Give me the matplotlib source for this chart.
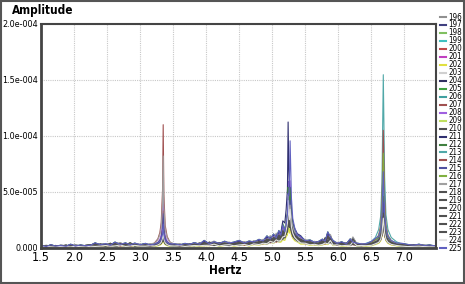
import numpy as np
import matplotlib
matplotlib.use("Agg")
import matplotlib.pyplot as plt
from matplotlib.lines import Line2D
from matplotlib.patches import Rectangle

plt.rcParams['font.family'] = ['DejaVu Sans']
plt.rcParams['font.stretch'] = 'condensed'

# frequency grid (Hz)
freq = [1.50, 1.58, 1.65, 1.72, 1.80, 1.88, 1.95, 2.02, 2.10, 2.18,
        2.25, 2.32, 2.40, 2.48, 2.55, 2.62, 2.70, 2.78, 2.85, 2.92,
        3.00, 3.08, 3.15, 3.22, 3.27, 3.30, 3.32, 3.34, 3.35, 3.36,
        3.38, 3.41, 3.45, 3.52, 3.60, 3.68, 3.75, 3.82, 3.90, 3.97,
        4.05, 4.12, 4.20, 4.28, 4.35, 4.42, 4.50, 4.58, 4.65, 4.72,
        4.80, 4.86, 4.92, 4.97, 5.02, 5.06, 5.10, 5.13, 5.16, 5.19,
        5.21, 5.23, 5.24, 5.25, 5.26, 5.27, 5.29, 5.31, 5.34, 5.38,
        5.43, 5.50, 5.57, 5.64, 5.70, 5.76, 5.80, 5.84, 5.88, 5.92,
        5.98, 6.05, 6.12, 6.18, 6.22, 6.28, 6.35, 6.42, 6.50, 6.56,
        6.61, 6.64, 6.66, 6.68, 6.70, 6.72, 6.75, 6.80, 6.88, 6.96,
        7.05, 7.14, 7.22, 7.30, 7.38, 7.48]

# background noise levels (units of 1e-6), three patterns
noise_a = [1.2, 1.8, 1.0, 2.2, 1.5, 2.6, 1.3, 1.9, 1.1, 2.4,
           3.0, 1.8, 3.6, 2.2, 4.2, 2.0, 3.4, 2.6, 4.6, 2.4,
           3.2, 2.0, 2.8, 3.0, 3.6, 4.0, 4.4, 4.8, 5.0, 4.6,
           4.0, 3.4, 2.8, 2.2, 3.0, 2.4, 3.6, 2.8, 4.4, 3.0,
           5.2, 3.2, 4.6, 3.8, 3.0, 4.2, 3.4, 4.8, 4.0, 5.4,
           4.6, 6.2, 5.4, 8.0, 7.0, 9.6, 8.4, 12.0, 9.0, 14.0,
           12.0, 16.0, 18.0, 20.0, 18.0, 16.0, 13.0, 11.0, 9.4, 8.0,
           7.2, 6.0, 5.2, 4.6, 5.8, 4.4, 9.0, 6.2, 7.0, 4.8,
           4.0, 3.6, 4.4, 3.2, 5.0, 3.0, 2.8, 3.4, 3.6, 4.4,
           6.0, 8.0, 10.0, 12.0, 10.0, 8.0, 6.0, 4.4, 3.2, 2.6,
           2.2, 2.8, 2.0, 2.4, 1.8, 1.6]
noise_b = [2.0, 1.0, 2.4, 1.4, 1.8, 1.2, 2.8, 1.4, 2.2, 1.6,
           2.0, 3.8, 2.4, 3.2, 2.0, 4.4, 2.6, 3.8, 2.2, 3.6,
           2.4, 3.4, 2.2, 2.6, 3.0, 3.4, 4.0, 4.2, 4.4, 4.2,
           3.6, 3.0, 2.4, 3.0, 2.2, 3.4, 2.6, 4.0, 2.8, 5.6,
           3.0, 4.6, 3.4, 5.0, 3.6, 4.4, 5.6, 3.6, 5.2, 4.4,
           6.4, 5.2, 9.0, 6.6, 10.4, 7.4, 13.0, 8.8, 16.0, 10.0,
           14.0, 12.0, 14.0, 16.0, 20.0, 18.0, 15.0, 12.0, 10.0, 9.0,
           8.2, 5.4, 6.0, 4.2, 4.8, 6.6, 5.0, 12.0, 8.0, 5.6,
           3.4, 4.6, 3.0, 6.8, 4.2, 3.6, 3.0, 2.6, 4.0, 5.2,
           5.0, 7.0, 9.0, 10.0, 9.0, 7.0, 5.0, 3.6, 2.8, 3.0,
           2.6, 2.0, 2.8, 1.8, 2.2, 1.4]
noise_c = [1.4, 2.2, 1.6, 1.2, 2.4, 1.8, 1.4, 2.6, 1.8, 1.4,
           2.6, 2.2, 2.8, 3.6, 2.6, 3.0, 4.4, 2.2, 3.0, 3.8,
           2.8, 2.6, 3.4, 2.4, 3.2, 3.8, 4.2, 4.6, 4.6, 4.4,
           3.8, 3.2, 2.6, 2.6, 3.4, 2.2, 3.0, 3.6, 3.2, 3.8,
           4.0, 5.6, 3.0, 4.4, 4.8, 3.2, 4.4, 5.2, 3.4, 6.0,
           5.0, 7.0, 6.4, 10.0, 8.0, 12.0, 10.0, 9.4, 13.0, 11.0,
           16.0, 14.0, 16.0, 18.0, 16.0, 20.0, 16.0, 14.0, 11.0, 10.0,
           6.4, 7.0, 4.6, 5.4, 4.0, 5.2, 7.4, 6.0, 11.0, 4.2,
           4.6, 3.2, 3.8, 4.0, 9.0, 3.4, 3.6, 3.0, 3.2, 4.8,
           5.6, 7.6, 9.6, 11.0, 9.6, 7.6, 5.6, 4.0, 3.0, 2.4,
           2.0, 2.4, 2.6, 2.0, 1.6, 1.8]

# relative peak profiles: {freq: fraction of peak height}
peak1_shape = {3.22: 0.02, 3.27: 0.05, 3.30: 0.10, 3.32: 0.18, 3.34: 0.45, 3.35: 1.0,
               3.36: 0.42, 3.38: 0.16, 3.41: 0.07, 3.45: 0.03, 3.52: 0.01}
peak2_shape = {5.13: 0.04, 5.16: 0.07, 5.19: 0.12, 5.21: 0.2, 5.23: 0.4, 5.24: 1.0,
               5.25: 0.5, 5.26: 0.25, 5.27: 0.15, 5.29: 0.1, 5.31: 0.07, 5.34: 0.05,
               5.38: 0.03, 5.43: 0.02}
peak2b_shape = {5.23: 0.1, 5.24: 0.15, 5.25: 0.25, 5.26: 0.45, 5.27: 1.0, 5.29: 0.35,
                5.31: 0.15, 5.34: 0.07}
peak3_shape = {6.42: 0.01, 6.50: 0.02, 6.56: 0.04, 6.61: 0.08, 6.64: 0.15, 6.66: 0.35,
               6.68: 1.0, 6.70: 0.38, 6.72: 0.16, 6.75: 0.08, 6.80: 0.04, 6.88: 0.02,
               6.96: 0.01}

labels = [str(n) for n in range(196, 226)]
colors = ['#909090', '#404080', '#80c060', '#40c0c0', '#c04848', '#c040c0', '#e0e040',
          '#d0d0d0', '#303060', '#40a040', '#40a0a0', '#a05050', '#a060e0', '#c0e060',
          '#505050', '#303070', '#408040', '#50a8a8', '#a05050', '#5050a0', '#80b040',
          '#a0a0a0', '#505050', '#505050', '#505050', '#505050', '#505050', '#505050',
          '#e4e4e4', '#6060c0']
# peak heights per series (units of 1e-6)
h1 = [8, 12, 10, 28, 14, 34, 6, 9, 18, 24, 16, 106, 44, 8, 14,
      20, 22, 12, 30, 26, 10, 77, 9, 7, 12, 6, 10, 8, 14, 16]
h2 = [18, 30, 14, 26, 12, 22, 10, 24, 28, 36, 20, 14, 40, 12, 24,
      94, 34, 22, 16, 30, 18, 28, 20, 14, 12, 10, 16, 18, 30, 20]
h2b = [10, 20, 8, 14, 6, 18, 6, 12, 16, 22, 10, 8, 36, 8, 14,
       20, 28, 12, 8, 18, 10, 12, 10, 8, 8, 6, 10, 10, 18, 71]
h3 = [20, 26, 18, 40, 14, 22, 16, 20, 30, 34, 28, 18, 24, 20, 22,
      26, 35, 145, 98, 30, 75, 18, 22, 14, 16, 12, 18, 16, 20, 56]
noise_group = [0, 1, 2, 0, 1, 1, 2, 0, 1, 1, 2, 0, 1, 2, 0,
               1, 2, 0, 1, 2, 0, 2, 1, 2, 0, 1, 2, 0, 2, 1]
noise_scale = [0.8, 1.0, 0.6, 0.9, 0.7, 0.8, 0.5, 0.6, 1.1, 1.2, 0.9, 0.8, 1.0, 0.6, 1.0,
               1.1, 1.0, 0.8, 0.7, 1.0, 0.8, 1.1, 0.9, 0.7, 1.0, 0.8, 0.9, 0.7, 0.6, 1.2]

yticks = [0, 5e-5, 1e-4, 1.5e-4, 2e-4]
ytick_labels = ['0.000', '5.0e-005', '1.0e-004', '1.5e-004', '2.0e-004']
xticks = [1.5, 2.0, 2.5, 3.0, 3.5, 4.0, 4.5, 5.0, 5.5, 6.0, 6.5, 7.0]

noises = [noise_a, noise_b, noise_c]

fig = plt.figure(figsize=(4.65, 2.84), dpi=100)
ax = fig.add_axes([0.088, 0.127, 0.85, 0.789])

for i in range(len(labels)):
    y = np.array(noises[noise_group[i]]) * noise_scale[i]
    for j, f in enumerate(freq):
        y[j] += (h1[i] * peak1_shape.get(f, 0) + h2[i] * peak2_shape.get(f, 0)
                 + h2b[i] * peak2b_shape.get(f, 0) + h3[i] * peak3_shape.get(f, 0))
    ax.plot(freq, y * 1e-6, color=colors[i], lw=0.8)

ax.set_xlim(1.5, 7.48)
ax.set_ylim(0, 2e-4)
ax.set_xticks(xticks)
ax.set_xticklabels([f"{t:.1f}" for t in xticks], fontsize=9)
ax.set_yticks(yticks)
ax.set_yticklabels(ytick_labels, fontsize=6.5)
ax.tick_params(length=0, pad=2)
ax.grid(True, color='#c8c8c8', lw=0.8, ls=(0, (1, 1)))
ax.set_axisbelow(True)
for s in ax.spines.values():
    s.set_color('#444444')
    s.set_linewidth(1.5)
ax.spines['left'].set_linewidth(2)
ax.spines['bottom'].set_linewidth(2)

fig.text(0.026, 0.962, 'Amplitude', fontsize=8.5, fontweight='bold', va='center', ha='left')
fig.text(0.484, 0.048, 'Hertz', fontsize=8.5, fontweight='bold', va='center', ha='center')

# legend, drawn by hand to get the tight spacing
for i, lab in enumerate(labels):
    yy = 1 - (17 + i * 7.97) / 284
    fig.add_artist(Line2D([440 / 465, 446 / 465], [yy, yy], color=colors[i], lw=1.5))
    fig.text(448 / 465, yy, lab, fontsize=5.8, va='center', ha='left')

fig.add_artist(Rectangle((0.002, 0.004), 0.996, 0.992, transform=fig.transFigure,
                         fill=False, edgecolor='#555555', lw=1.5))

fig.savefig('out.png', dpi=100)
